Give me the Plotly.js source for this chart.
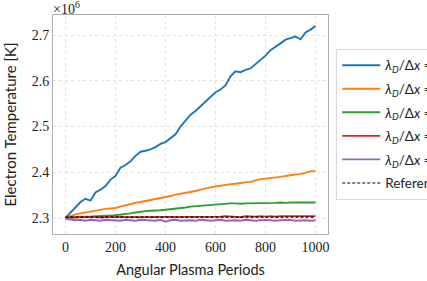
<!DOCTYPE html>
<html>
<head>
<meta charset="utf-8">
<script src="https://cdn.plot.ly/plotly-3.0.1.min.js"></script>
<style>html,body{margin:0;padding:0;background:#fff;}#chart{width:427px;height:281px;}</style>
</head>
<body>
<div id="chart"></div>
<script>
// Angular plasma periods (sampled every 20)
const periods = [0,20,40,60,80,100,120,140,160,180,200,220,240,260,280,300,320,340,360,380,400,420,440,460,480,500,520,540,560,580,600,620,640,660,680,700,720,740,760,780,800,820,840,860,880,900,920,940,960,980,1000];
// Electron temperature in units of 1e6 K
const tempBlue = [2.300,2.312,2.322,2.335,2.342,2.338,2.356,2.362,2.370,2.384,2.392,2.410,2.416,2.424,2.436,2.445,2.447,2.450,2.455,2.462,2.466,2.474,2.483,2.500,2.513,2.526,2.534,2.544,2.556,2.566,2.575,2.581,2.590,2.610,2.621,2.619,2.624,2.627,2.636,2.646,2.655,2.667,2.674,2.682,2.690,2.694,2.697,2.691,2.706,2.712,2.720];
const tempOrange = [2.300,2.304,2.308,2.310,2.312,2.314,2.317,2.319,2.320,2.321,2.322,2.325,2.328,2.330,2.333,2.335,2.337,2.339,2.341,2.343,2.345,2.348,2.351,2.353,2.354,2.356,2.359,2.362,2.365,2.367,2.369,2.371,2.373,2.374,2.375,2.377,2.378,2.379,2.382,2.385,2.386,2.387,2.388,2.390,2.392,2.394,2.395,2.396,2.399,2.402,2.403];
const tempGreen = [2.300,2.301,2.302,2.302,2.303,2.303,2.304,2.304,2.305,2.305,2.306,2.307,2.308,2.310,2.312,2.314,2.315,2.316,2.316,2.317,2.318,2.319,2.321,2.322,2.323,2.325,2.326,2.327,2.327,2.328,2.329,2.331,2.331,2.332,2.332,2.331,2.332,2.332,2.333,2.332,2.333,2.333,2.333,2.334,2.333,2.334,2.334,2.333,2.334,2.334,2.334];
const tempRed = [2.300,2.302,2.301,2.303,2.302,2.302,2.303,2.301,2.302,2.303,2.302,2.303,2.302,2.302,2.303,2.302,2.303,2.302,2.303,2.302,2.302,2.303,2.303,2.302,2.303,2.303,2.302,2.303,2.303,2.302,2.303,2.303,2.304,2.303,2.303,2.302,2.304,2.303,2.303,2.304,2.303,2.304,2.303,2.304,2.304,2.303,2.304,2.303,2.304,2.304,2.304];
const tempPurple = [2.298,2.296,2.295,2.296,2.294,2.296,2.295,2.294,2.296,2.295,2.295,2.294,2.296,2.295,2.294,2.296,2.295,2.295,2.294,2.296,2.292,2.295,2.296,2.294,2.295,2.295,2.294,2.296,2.295,2.294,2.295,2.296,2.294,2.295,2.295,2.294,2.296,2.295,2.294,2.295,2.296,2.295,2.294,2.295,2.295,2.296,2.294,2.295,2.295,2.294,2.295];
const refPeriods = [0,1000];
const refTemp = [2.302,2.302];
const seriesLabels = [
  "<i>λ<sub>D</sub></i>/Δ<i>x</i> = 0.125",
  "<i>λ<sub>D</sub></i>/Δ<i>x</i> = 0.25",
  "<i>λ<sub>D</sub></i>/Δ<i>x</i> = 0.5",
  "<i>λ<sub>D</sub></i>/Δ<i>x</i> = 1",
  "<i>λ<sub>D</sub></i>/Δ<i>x</i> = 2",
  "Reference"
];
const colors = ["#1f77b4","#ff7f0e","#2ca02c","#d62728","#9467bd","#000000"];
const series = [tempBlue,tempOrange,tempGreen,tempRed,tempPurple];

const traces = series.map((s,i)=>({
  x: periods, y: s, type:'scatter', mode:'lines', name: seriesLabels[i],
  legendgroup: 'g'+i,
  line:{color:colors[i], width:1.9}
}));
traces.push({x:refPeriods, y:refTemp, type:'scatter', mode:'lines', name:seriesLabels[5],
  legendgroup:'g5', line:{color:'#000', width:1.1, dash:'3px,2px'}});

const serif = "Liberation Serif, DejaVu Serif, serif";
const sans = "Lato, Open Sans, DejaVu Sans, sans-serif";
const axisCommon = {
  showline:true, mirror:true, linecolor:'#b0b0b0', linewidth:1,
  showgrid:true, gridcolor:'#dcdcdc', gridwidth:0.8, griddash:'dot',
  zeroline:false, ticks:'', tickfont:{family:serif, size:14, color:'#222'}
};
const layout = {
  width:427, height:281,
  margin:{l:53, r:99, t:15, b:47, autoexpand:false},
  paper_bgcolor:'#fff', plot_bgcolor:'#fff',
  showlegend:true,
  legend:{x:1.03, y:0.845, xanchor:'left', yanchor:'top', bgcolor:'#fff',
    bordercolor:'#d8d8d8', borderwidth:1, font:{family:sans, size:13.5, color:'#222'},
    tracegroupgap:3, itemwidth:38},
  xaxis: Object.assign({}, axisCommon, {range:[-50,1050], tickvals:[0,200,400,600,800,1000],
    title:{text:'Angular Plasma Periods', font:{family:sans, size:14.5, color:'#222'}, standoff:11}}),
  yaxis: Object.assign({}, axisCommon, {range:[2.265,2.744], tickvals:[2.3,2.4,2.5,2.6,2.7], ticktext:['2.3','2.4','2.5','2.6','2.7'],
    title:{text:'Electron Temperature [K]', font:{family:sans, size:15, color:'#222'}, standoff:11}}),
  annotations:[{xref:'paper', yref:'paper', x:0, y:1, xanchor:'left', yanchor:'bottom', showarrow:false,
    text:'×10<sup>6</sup>', font:{family:serif, size:14, color:'#222'}, xshift:-2, yshift:-4}]
};
Plotly.newPlot('chart', traces, layout, {staticPlot:true, displayModeBar:false});
</script>
</body>
</html>
